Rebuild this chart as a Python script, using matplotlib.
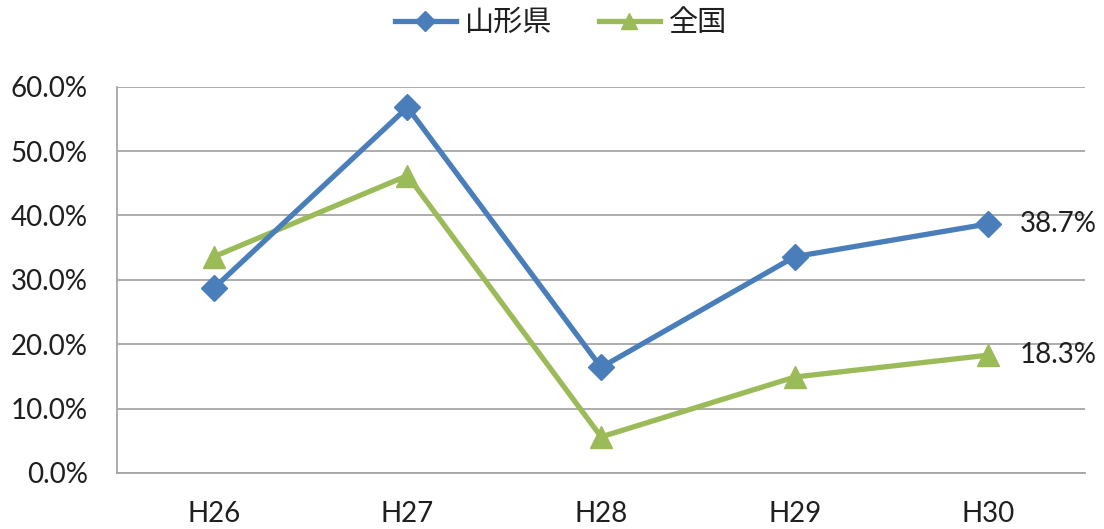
import matplotlib
matplotlib.use("Agg")
import matplotlib.pyplot as plt
from matplotlib.ticker import FuncFormatter

plt.rcParams['font.family'] = ['Lato', 'Noto Sans CJK JP', 'DejaVu Sans']

years = ["H26", "H27", "H28", "H29", "H30"]
yamagata = [28.7, 56.8, 16.4, 33.6, 38.7]
national = [33.6, 46.2, 5.6, 14.9, 18.3]
series_names = ["山形県", "全国"]

blue = "#4A7EBB"
green = "#9BBB59"
grid_c = "#A6A6A6"
text_c = "#1F1F1F"

fig = plt.figure(figsize=(11.04, 5.29), dpi=100)
ax = fig.add_axes([0.106, 0.106, 0.877, 0.730])

x = range(len(years))
ax.plot(x, yamagata, color=blue, lw=3.8, marker="D", ms=13, label=series_names[0], zorder=3)
ax.plot(x, national, color=green, lw=3.8, marker="^", ms=16, label=series_names[1], zorder=2)

ax.set_xlim(-0.5, len(years) - 0.5)
ax.set_ylim(0, 60)
ax.set_yticks(range(0, 61, 10))
ax.yaxis.set_major_formatter(FuncFormatter(lambda v, p: f"{v:.1f}%"))
ax.set_xticks(list(x))
ax.set_xticklabels(years)
ax.tick_params(axis="both", length=0, labelsize=20, colors=text_c)
ax.tick_params(axis="y", pad=21)
ax.tick_params(axis="x", pad=20)

ax.grid(axis="y", color=grid_c, lw=1.3)
ax.set_axisbelow(True)
for s in ["top", "right"]:
    ax.spines[s].set_visible(False)
ax.spines["left"].set_color(grid_c)
ax.spines["left"].set_linewidth(1.3)
ax.spines["bottom"].set_color(grid_c)
ax.spines["bottom"].set_linewidth(1.3)

# value labels on the last year
last = len(years) - 1
for vals in (yamagata, national):
    ax.text(last + 0.16, vals[-1], f"{vals[-1]:.1f}%", va="center", ha="left",
            fontsize=20, color=text_c, clip_on=False)

leg = fig.legend(loc="upper center", bbox_to_anchor=(0.508, 1.035), ncol=2, frameon=False,
                 prop={"family": ["Noto Sans CJK JP"], "size": 21}, handlelength=2.1,
                 columnspacing=1.6, handletextpad=0.3, markerscale=0.75)
for t in leg.get_texts():
    t.set_color(text_c)

fig.savefig("out.png", dpi=100, facecolor="white")
